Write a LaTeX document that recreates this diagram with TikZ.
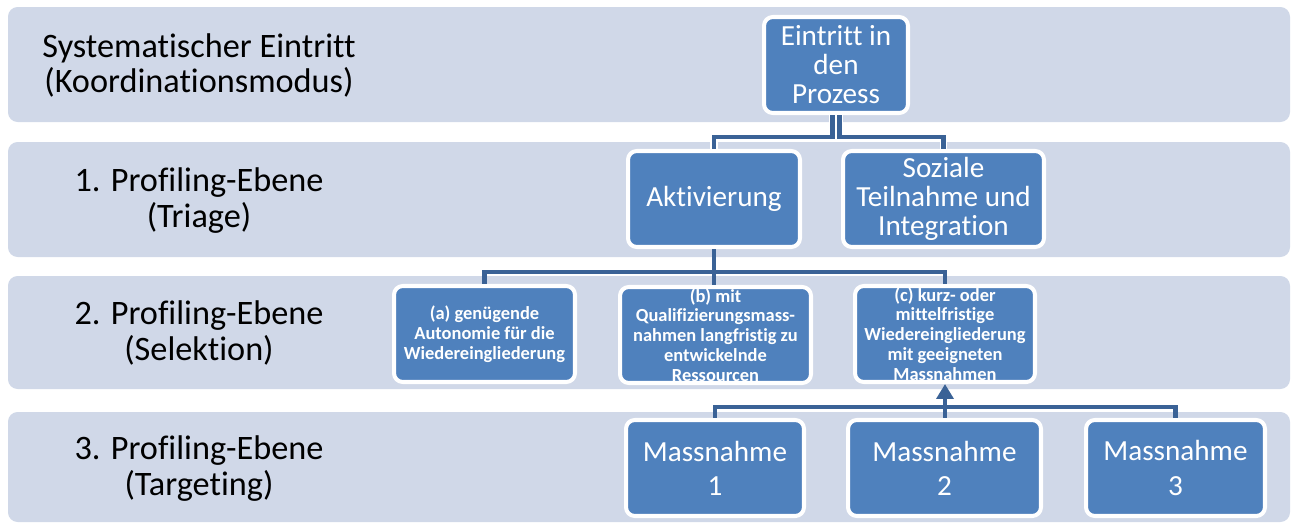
\documentclass[tikz,border=0pt]{standalone}
\usepackage{fontspec}
\setmainfont[Ligatures=NoCommon]{Carlito}
\usepackage{tikz}
\usetikzlibrary{arrows.meta,calc}
\definecolor{bandblue}{HTML}{D0D8E8}
\definecolor{boxblue}{HTML}{4F81BD}
\definecolor{linkblue}{HTML}{3A6296}

\begin{document}
\begin{tikzpicture}[x=0.02cm,y=-0.02cm,
  bandbg/.style={fill=bandblue,rounded corners=5.5pt},
  ebene/.style={align=center,font=\fontsize{19.5}{20}\selectfont},
  kasten/.style={draw=white,line width=2.3pt,fill=boxblue,rounded corners=5pt,
    text=white,align=center,inner sep=0pt,minimum height=1.92cm,
    font=\fontsize{16.6}{16.5}\selectfont},
  kleinkasten/.style={kasten,font=\fontsize{10.5}{11.3}\selectfont\bfseries},
  massbox/.style={kasten,font=\fontsize{16.6}{19.5}\selectfont},
  link/.style={draw=linkblue,line width=2.8pt},
  halo/.style={preaction={draw=white,line width=4.4pt}},
  uparrow/.style={-{Triangle[width=9.6pt,length=8.5pt]}}
]
\useasboundingbox (0,0) rectangle (1295,525);
% Ebenen
\fill[bandbg] (8,7) rectangle (1290,122);
\fill[bandbg] (8,142) rectangle (1290,257);
\fill[bandbg] (8,276) rectangle (1290,389);
\fill[bandbg] (8,412) rectangle (1290,522);
\node[ebene] (lab0) at (199,65.5) {Systematischer Eintritt\\(Koordinationsmodus)};
\node[ebene] (lab1) at (199,200.5) {1. Profiling-Ebene\\(Triage)};
\node[ebene] (lab2) at (199,333) {2. Profiling-Ebene\\(Selektion)};
\node[ebene] (lab3) at (199,468.5) {3. Profiling-Ebene\\(Targeting)};
% Kaesten
\node[kasten,minimum width=2.88cm] (eintritt) at (836,65) {Eintritt in\\den\\Prozess};
\node[kasten,minimum width=3.44cm] (akt) at (714,199) {Aktivierung};
\node[kasten,minimum width=4.02cm] (soz) at (943.5,199) {Soziale\\Teilnahme und\\Integration};
\node[kleinkasten,minimum width=3.62cm] (sela) at (484.5,334) {(a) genügende\\Autonomie für die\\Wiedereingliederung};
\node[kleinkasten,minimum width=3.82cm] (selb) at (715.5,335) {(b) mit\\Qualifizierungsmass-\\nahmen langfristig zu\\entwickelnde\\Ressourcen};
\node[kleinkasten,minimum width=3.6cm] (selc) at (945,334) {(c) kurz- oder\\mittelfristige\\Wiedereingliederung\\mit geeigneten\\Massnahmen};
\node[massbox,minimum width=3.56cm] (m1) at (715,468) {Massnahme\\1};
\node[massbox,minimum width=3.86cm] (m2) at (944.5,468) {Massnahme\\2};
\node[massbox,minimum width=3.58cm] (m3) at (1175.5,468) {Massnahme\\3};
% Verbindungen
\coordinate (bus0) at (836,137);
\coordinate (bus1) at (714,272);
\coordinate (bus2) at (945,407);
\draw[link,halo] ($(eintritt.south)+(-3.5,0)$) -- ($(eintritt.south |- bus0)+(-3.5,0)$) -| (akt.north);
\draw[link,halo] ($(eintritt.south)+(3.5,0)$) -- ($(eintritt.south |- bus0)+(3.5,0)$) -| (soz.north);
\draw[link] (akt.south) -- (bus1) -| (sela.north);
\draw[link] (akt.south) -- (bus1) -| (selc.north);
\draw[link] (akt.south) -- (akt.south |- selb.north);
\draw[link] (m1.north) |- (bus2);
\draw[link] (m3.north) |- (bus2);
\draw[link,uparrow] (m2.north -| bus2) -- (selc.south);
\end{tikzpicture}
\end{document}
